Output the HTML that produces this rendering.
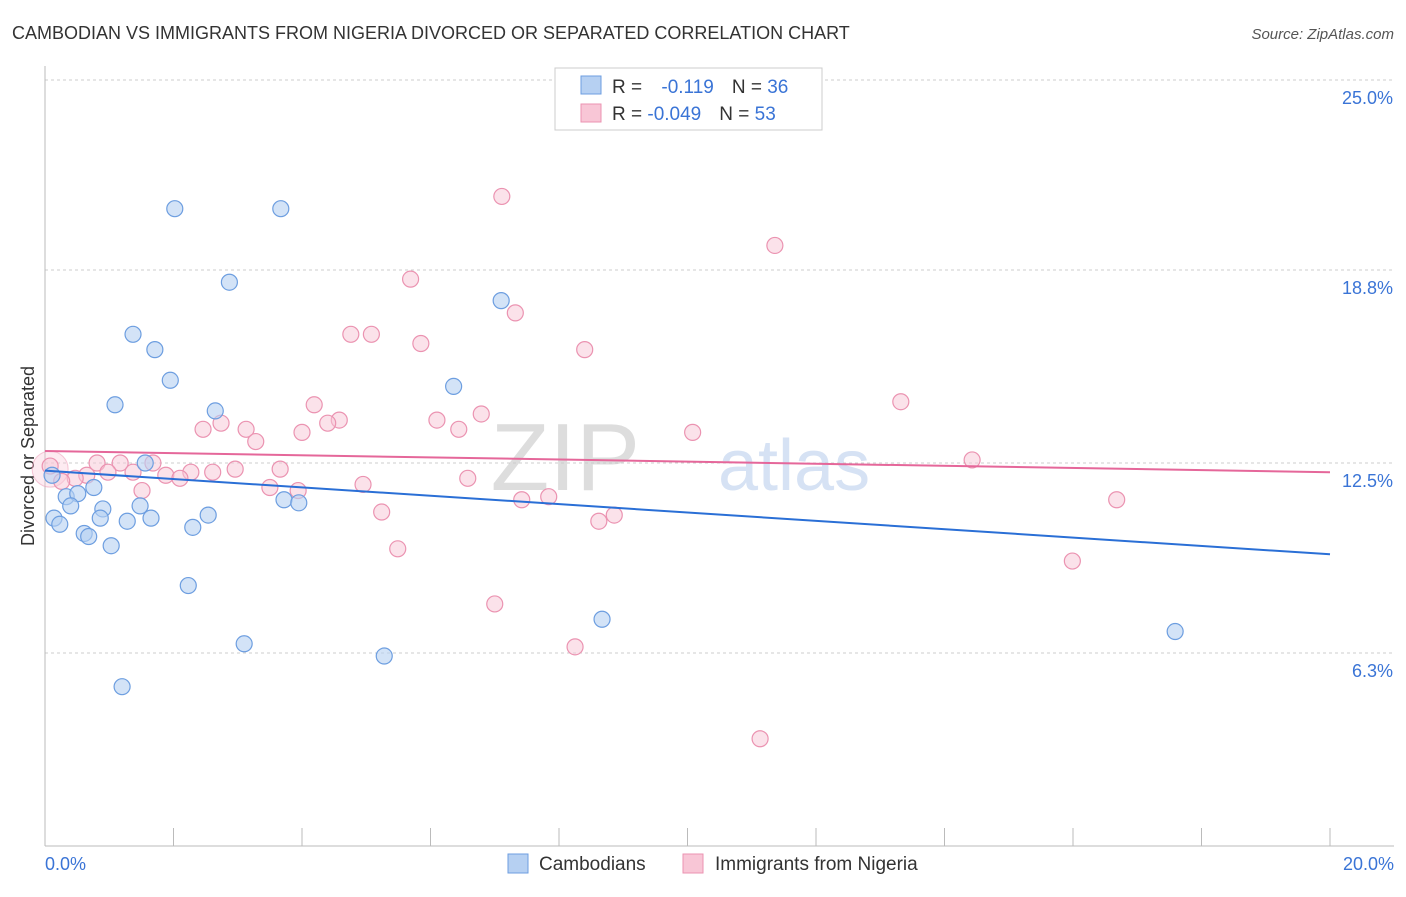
<!DOCTYPE html>
<html><head><meta charset="utf-8"><style>
body{margin:0;background:#fff;font-family:"Liberation Sans",sans-serif;}
svg text{font-family:"Liberation Sans",sans-serif;}
</style></head><body>
<svg id="c" width="1406" height="892">
<text x="12" y="39" font-size="18" fill="#333">CAMBODIAN VS IMMIGRANTS FROM NIGERIA DIVORCED OR SEPARATED CORRELATION CHART</text>
<text x="1394" y="39" font-size="15" fill="#555" font-style="italic" text-anchor="end">Source: ZipAtlas.com</text>
<text x="640" y="490" font-size="96" fill="#ddd" font-family="Liberation Serif" text-anchor="end">ZIP</text>
<text x="718" y="490" font-size="72" fill="#d6e2f4">atlas</text>
<text transform="translate(34,456) rotate(-90)" font-size="18" fill="#333" text-anchor="middle">Divorced or Separated</text>
<g id="grid"></g><g id="marks"></g>
<g>
<rect x="555" y="68" width="267" height="62" fill="#fff" stroke="#ccc"/>
<rect x="581" y="76" width="20" height="18" fill="#b6d0f2" stroke="#6d9ee0"/>
<rect x="581" y="104" width="20" height="18" fill="#f8c6d6" stroke="#eb93b1"/>
<text x="612" y="93" font-size="19" fill="#333">R = <tspan fill="#3a74d6" dx="14">-0.119</tspan><tspan dx="18" fill="#333">N = </tspan><tspan fill="#3a74d6">36</tspan></text>
<text x="612" y="120" font-size="19" fill="#333">R = <tspan fill="#3a74d6">-0.049</tspan><tspan dx="18" fill="#333">N = </tspan><tspan fill="#3a74d6">53</tspan></text>
</g>
<g>
<rect x="508" y="854" width="20" height="19" fill="#b6d0f2" stroke="#6d9ee0"/>
<text x="539" y="870" font-size="19" fill="#333">Cambodians</text>
<rect x="683" y="854" width="20" height="19" fill="#f8c6d6" stroke="#eb93b1"/>
<text x="715" y="870" font-size="19" fill="#333">Immigrants from Nigeria</text>
</g>
</svg>
<script>
const yTicks=[25.0,18.8,12.5,6.3];
const yTickLabels=["25.0%","18.8%","12.5%","6.3%"];
const xTickLabels=["0.0%","20.0%"];
const blueX=[2.02,3.67,2.87,7.1,1.37,1.71,1.95,6.36,1.09,2.65,1.56,0.11,0.76,0.33,0.51,0.40,0.90,1.48,0.86,0.14,0.23,1.28,1.65,2.54,2.30,0.61,0.68,1.03,3.72,3.95,2.23,8.67,3.10,5.28,17.59,1.20];
const blueY=[20.8,20.8,18.4,17.8,16.7,16.2,15.2,15.0,14.4,14.2,12.5,12.1,11.7,11.4,11.5,11.1,11.0,11.1,10.7,10.7,10.5,10.6,10.7,10.8,10.4,10.2,10.1,9.8,11.3,11.2,8.5,7.4,6.6,6.2,7.0,5.2];
const pinkX=[7.11,11.36,5.69,7.32,4.76,5.08,5.85,8.40,13.32,4.19,6.79,6.10,4.58,4.40,6.44,2.46,2.74,3.13,3.28,4.00,10.08,14.43,0.81,1.17,1.68,3.66,2.96,2.61,2.27,1.88,0.98,0.65,1.37,2.10,0.47,0.26,0.08,1.51,3.50,3.94,4.95,6.58,7.42,7.84,5.24,8.86,8.62,16.68,5.49,15.99,7.0,8.25,11.13];
const pinkY=[21.2,19.6,18.5,17.4,16.7,16.7,16.4,16.2,14.5,14.4,14.1,13.9,13.9,13.8,13.6,13.6,13.8,13.6,13.2,13.5,13.5,12.6,12.5,12.5,12.5,12.3,12.3,12.2,12.2,12.1,12.2,12.1,12.2,12.0,12.0,11.9,12.4,11.6,11.7,11.6,11.8,12.0,11.3,11.4,10.9,10.8,10.6,11.3,9.7,9.3,7.9,6.5,3.5];
const blueLine=[12.25,9.52];
const pinkLine=[12.89,12.2];
const NS="http://www.w3.org/2000/svg";
const X0=45,X1=1330,Y0=846,Y25=80;
const sx=v=>X0+(v/20)*(X1-X0);
const sy=v=>Y0-(v/25)*(Y0-Y25);
function mk(t,a,p){const e=document.createElementNS(NS,t);for(const k in a)e.setAttribute(k,a[k]);p.appendChild(e);return e;}
const g=document.getElementById('grid'),m=document.getElementById('marks');
yTicks.forEach((v,i)=>{
 const l=mk('line',{x1:X0,x2:1394,y1:sy(v),y2:sy(v),stroke:'#ccc','stroke-dasharray':'3,3'},g);
 
 const t=mk('text',{x:1393,y:sy(v)+24,'font-size':18,fill:'#3a74d6','text-anchor':'end'},g);t.textContent=yTickLabels[i];
 
});
const ax=mk('line',{x1:X0,x2:X0,y1:66,y2:Y0,stroke:'#bbb'},g);
const bx=mk('line',{x1:X0,x2:1394,y1:Y0,y2:Y0,stroke:'#bbb'},g);
for(let i=0;i<=10;i++){const x=sx(i*2);const t=mk('line',{x1:x,x2:x,y1:Y0-18,y2:Y0,stroke:'#bbb'},g);}
[[0,'start',45],[20,'end',1394]].forEach((d,i)=>{const t=mk('text',{x:d[2],y:870,'font-size':18,fill:'#3a74d6','text-anchor':d[1]},g);t.textContent=xTickLabels[i];});
const big=mk('circle',{cx:sx(0.08),cy:sy(12.3),r:18,fill:'rgba(248,198,214,0.35)',stroke:'#eb93b1','stroke-opacity':0.5},m);

pinkX.forEach((v,i)=>{const c=mk('circle',{cx:sx(v),cy:sy(pinkY[i]),r:8,fill:'rgba(248,198,214,0.5)',stroke:'#eb93b1','stroke-width':1.2},m);
 });
blueX.forEach((v,i)=>{const c=mk('circle',{cx:sx(v),cy:sy(blueY[i]),r:8,fill:'rgba(182,208,242,0.6)',stroke:'#6d9ee0','stroke-width':1.2},m);
 });
const bl=mk('line',{x1:sx(0),x2:sx(20),y1:sy(blueLine[0]),y2:sy(blueLine[1]),stroke:'#2a6fd6','stroke-width':2},m);

const pl=mk('line',{x1:sx(0),x2:sx(20),y1:sy(pinkLine[0]),y2:sy(pinkLine[1]),stroke:'#e5679a','stroke-width':2},m);

</script>
</body></html>
